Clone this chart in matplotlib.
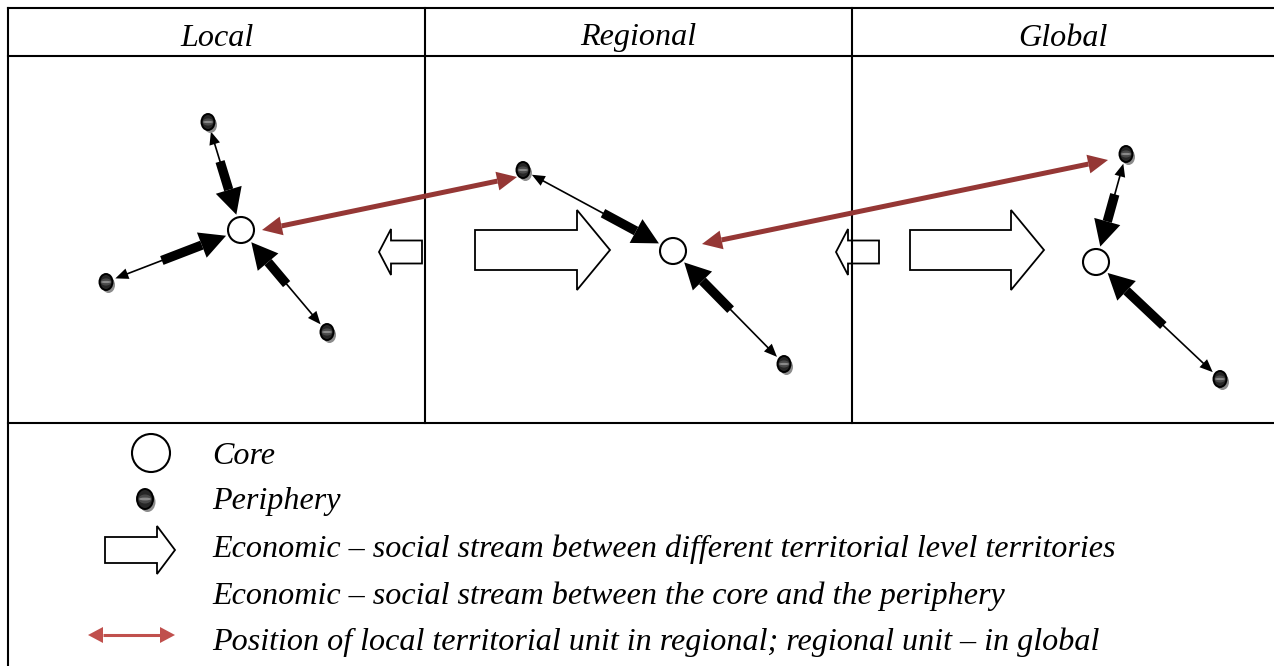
import numpy as np
import matplotlib
matplotlib.use("Agg")
import matplotlib.pyplot as plt
from matplotlib.patches import Polygon, Circle, Ellipse

# ---- diagram content (reference pixel space, y pointing down) ----
levels = ["Local", "Regional", "Global"]
col_edges = [8, 425, 852, 1274]
header_rows = [8, 56]
body_bottom = 423

core_xy = [(241, 230), (673, 251), (1096, 262)]
periphery_xy = [(208, 122), (106, 282), (327, 332),
                (523, 170), (784, 364),
                (1126, 154), (1220, 379)]
periphery_core = [0, 0, 0, 1, 1, 2, 2]
thin_share = [0.36, 0.42, 0.49, 0.56, 0.50, 0.37, 0.47]

# position of a unit in the higher level (red double arrows)
position_links = [((262, 230), (517, 177)), ((702, 244), (1108, 160))]

# streams between levels: (x_tail, x_tip, y)
stream_big = [(475, 610, 250), (910, 1044, 250)]
stream_small = [(422, 379, 252), (879, 836, 252)]

legend_labels = [
    "Core",
    "Periphery",
    "Economic \u2013 social stream between different territorial level territories",
    "Economic \u2013 social stream between the core and the periphery",
    "Position of local territorial unit in regional; regional unit \u2013 in global",
]
legend_y = [453, 499, 546, 593, 639]

DARK_RED = "#953735"
LIGHT_RED = "#c0504d"
CORE_R = 13
FONT = dict(family="Liberation Serif", style="italic", fontsize=23.1)


def block_arrow(ax, x0, x1, y, body, head, head_len, z=3):
    d = np.sign(x1 - x0)
    xb = x1 - d * head_len
    pts = [(x0, y - body), (xb, y - body), (xb, y - head), (x1, y),
           (xb, y + head), (xb, y + body), (x0, y + body)]
    ax.add_patch(Polygon(pts, closed=True, facecolor="white",
                         edgecolor="black", lw=1.3, zorder=z))


def double_arrow(ax, p0, p1, lw, head_len, head_half, color, z=6):
    p0 = np.array(p0, float)
    p1 = np.array(p1, float)
    u = (p1 - p0) / np.linalg.norm(p1 - p0)
    n = np.array([-u[1], u[0]])
    a, b = p0 + u * head_len, p1 - u * head_len
    ax.plot([a[0], b[0]], [a[1], b[1]], color=color, lw=lw,
            solid_capstyle="butt", zorder=z)
    ax.add_patch(Polygon([p0, a + n * head_half, a - n * head_half],
                         color=color, lw=0, zorder=z))
    ax.add_patch(Polygon([p1, b + n * head_half, b - n * head_half],
                         color=color, lw=0, zorder=z))


def core_link(ax, p, c, share):
    p = np.array(p, float)
    c = np.array(c, float)
    u = (c - p) / np.linalg.norm(c - p)
    n = np.array([-u[1], u[0]])
    a = p + u * 10
    b = c - u * (CORE_R + 3)
    L = np.linalg.norm(b - a)
    m1 = a + u * L * share
    hb = b - u * 26
    sh = a + u * 13
    ax.plot([sh[0], m1[0]], [sh[1], m1[1]], color="black", lw=1.2, zorder=3)
    ax.add_patch(Polygon([a, sh + n * 5.5, sh - n * 5.5], color="black", lw=0, zorder=3))
    w = 4.7
    ax.add_patch(Polygon([m1 + n * w, hb + n * w, hb - n * w, m1 - n * w],
                         color="black", lw=0, zorder=3))
    ax.add_patch(Polygon([b, hb + n * 13.5, hb - n * 13.5], color="black", lw=0, zorder=3))


def periphery(ax, x, y, w=13, h=16):
    ax.add_patch(Ellipse((x + 2.5, y + 3), w, h, color="#8c8c8c", lw=0, zorder=4))
    ax.add_patch(Ellipse((x, y), w, h, facecolor="#262626", edgecolor="black",
                         lw=1.4, zorder=5))
    ax.add_patch(Ellipse((x, y), w * 0.8, h * 0.45, facecolor="#4a4a4a",
                         edgecolor="none", zorder=6))
    ax.add_patch(Ellipse((x, y), w * 0.75, h * 0.14, facecolor="#8a8a8a",
                         edgecolor="none", zorder=7))


def core(ax, x, y, r=CORE_R):
    ax.add_patch(Circle((x, y), r, facecolor="white", edgecolor="black",
                        lw=1.5, zorder=5))


fig = plt.figure(figsize=(12.74, 6.66), dpi=100)
ax = fig.add_axes([0, 0, 1, 1])
ax.set_xlim(0, 1274)
ax.set_ylim(666, 0)
ax.axis("off")

# table grid
for y in header_rows + [body_bottom]:
    ax.plot([col_edges[0], col_edges[-1]], [y, y], color="black", lw=1.5, zorder=8)
ax.plot([col_edges[0], col_edges[0]], [header_rows[0], 666], color="black", lw=1.5, zorder=8)
for x in col_edges[1:-1]:
    ax.plot([x, x], [header_rows[0], body_bottom], color="black", lw=1.5, zorder=8)

for i, name in enumerate(levels):
    xc = (col_edges[i] + col_edges[i + 1]) / 2
    ax.text(xc, (header_rows[0] + header_rows[1]) / 2 + 6, name,
            ha="center", va="center", **FONT)

# streams between levels
for x0, x1, y in stream_big:
    block_arrow(ax, x0, x1, y, 20, 40, 33)
for x0, x1, y in stream_small:
    block_arrow(ax, x0, x1, y, 11.5, 23, 12)

# core - periphery streams
for p, ci, s in zip(periphery_xy, periphery_core, thin_share):
    core_link(ax, p, core_xy[ci], s)

for x, y in core_xy:
    core(ax, x, y)
for x, y in periphery_xy:
    periphery(ax, x, y)

for p0, p1 in position_links:
    double_arrow(ax, p0, p1, 3.6, 20, 9.5, DARK_RED, z=9)

# legend
core(ax, 151, legend_y[0], r=19)
periphery(ax, 145, legend_y[1], w=16, h=20)
block_arrow(ax, 105, 175, legend_y[2] + 4, 13, 24, 18)
double_arrow(ax, (88, legend_y[4] - 4), (175, legend_y[4] - 4), 2.2, 15, 8, LIGHT_RED)

for y, label in zip(legend_y, legend_labels):
    ax.text(212, y + 3, label, ha="left", va="center", **FONT)

fig.savefig("out.png", dpi=100)
